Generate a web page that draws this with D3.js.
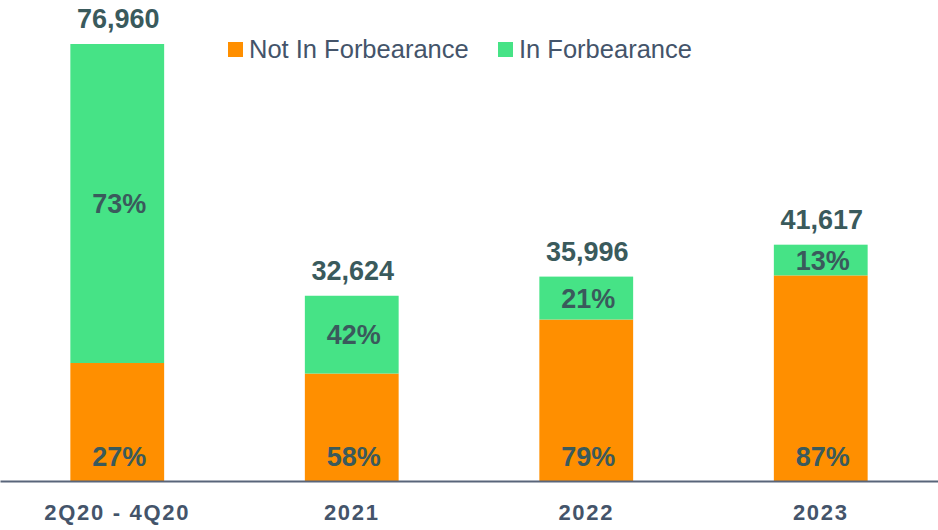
<!DOCTYPE html>
<html>
<head>
<meta charset="utf-8">
<script src="https://cdn.jsdelivr.net/npm/d3@7"></script>
<style>
  body { margin: 0; background: #fff; }
  svg { display: block; font-family: "Liberation Sans", Arial, sans-serif; }
</style>
</head>
<body>
<div id="chart"></div>
<script>
// values
const categories = ["2Q20 - 4Q20", "2021", "2022", "2023"];
const totals = [76960, 32624, 35996, 41617];
const notInPct = [27, 58, 79, 87];
const inPct = [73, 42, 21, 13];
const seriesNames = ["Not In Forbearance", "In Forbearance"];
const seriesColors = ["#FF8F00", "#46E386"];

const width = 938, height = 530;
const baseline = 481;

const svg = d3.select("#chart")
  .append("svg")
    .attr("width", width)
    .attr("height", height);

const x = d3.scaleBand()
  .domain(categories)
  .range([0, width])
  .paddingInner(0.6)
  .paddingOuter(0.3);

const y = d3.scaleLinear()
  .domain([0, d3.max(totals)])
  .range([baseline, 44]);

// build stacked rows from totals and shares
const rows = categories.map((c, i) => ({
  cat: c,
  total: totals[i],
  notIn: totals[i] * notInPct[i] / 100,
  inF: totals[i] * inPct[i] / 100,
  pNot: notInPct[i],
  pIn: inPct[i]
}));

const stack = d3.stack().keys(["notIn", "inF"]);
const layers = stack(rows);

const g = svg.selectAll("g.layer")
  .data(layers)
  .enter()
  .append("g")
    .attr("class", "layer")
    .attr("fill", (d, i) => seriesColors[i]);

g.selectAll("rect")
  .data(d => d)
  .enter()
  .append("rect")
    .attr("x", d => x(d.data.cat))
    .attr("y", d => y(d[1]))
    .attr("width", x.bandwidth())
    .attr("height", d => y(d[0]) - y(d[1]));

// axis
const axis = svg.append("g")
  .attr("transform", `translate(0,${baseline})`)
  .call(d3.axisBottom(x).tickSize(0).tickPadding(23));
axis.select(".domain")
  .attr("stroke", "#59657a")
  .attr("stroke-width", 2);
axis.selectAll("text")
  .attr("fill", "#44546a")
  .style("font-size", "22px")
  .style("font-weight", "bold")
  .style("letter-spacing", "1.7px")
  .style("font-family", "'Liberation Sans', Arial, sans-serif");

const labelColor = "#3a5a5c";

// totals on top
svg.selectAll("text.total")
  .data(rows)
  .enter()
  .append("text")
    .attr("class", "total")
    .attr("x", d => x(d.cat) + x.bandwidth() / 2 + 1)
    .attr("y", d => y(d.total) - 16)
    .attr("text-anchor", "middle")
    .attr("fill", labelColor)
    .style("font-size", "27px")
    .style("font-weight", "bold")
    .text(d => d3.format(",")(d.total));

// not in forbearance % at base
svg.selectAll("text.pnot")
  .data(rows)
  .enter()
  .append("text")
    .attr("class", "pnot")
    .attr("x", d => x(d.cat) + x.bandwidth() / 2 + 2)
    .attr("y", baseline - 15)
    .attr("text-anchor", "middle")
    .attr("fill", labelColor)
    .style("font-size", "27px")
    .style("font-weight", "bold")
    .text(d => d.pNot + "%");

// in forbearance % in middle of segment
svg.selectAll("text.pin")
  .data(rows)
  .enter()
  .append("text")
    .attr("class", "pin")
    .attr("x", d => x(d.cat) + x.bandwidth() / 2 + 2)
    .attr("y", d => (y(d.notIn) + y(d.total)) / 2)
    .attr("dy", "0.36em")
    .attr("text-anchor", "middle")
    .attr("fill", labelColor)
    .style("font-size", "27px")
    .style("font-weight", "bold")
    .text(d => d.pIn + "%");

// legend
const legendX = [228, 498];
const legend = svg.selectAll("g.legend")
  .data(seriesNames)
  .enter()
  .append("g")
    .attr("class", "legend")
    .attr("transform", (d, i) => `translate(${legendX[i]},42)`);
legend.append("rect")
  .attr("width", 15)
  .attr("height", 15)
  .attr("fill", (d, i) => seriesColors[i]);
legend.append("text")
  .attr("x", 21)
  .attr("y", 15.5)
  .attr("fill", "#44546a")
  .style("font-size", "25.5px")
  .text(d => d);
</script>
</body>
</html>
